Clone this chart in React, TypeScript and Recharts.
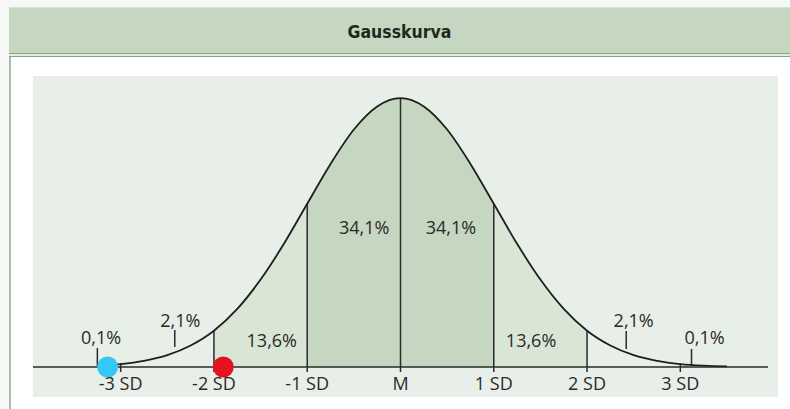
import React from 'react';
import { ComposedChart, Area, Line, XAxis, YAxis, ReferenceLine, Scatter } from 'recharts';

// Curve: position in SD units and relative height (peak = 1)
const sdPositions = [-3.25, -3, -2.75, -2.5, -2.25, -2, -1.75, -1.5, -1.25, -1, -0.75, -0.5, -0.25, 0,
  0.25, 0.5, 0.75, 1, 1.25, 1.5, 1.75, 2, 2.25, 2.5, 2.75, 3, 3.25, 3.5];
const curveHeights = [0.005, 0.011, 0.023, 0.044, 0.08, 0.135, 0.216, 0.325, 0.458, 0.607, 0.755, 0.883, 0.969, 1,
  0.969, 0.883, 0.755, 0.607, 0.458, 0.325, 0.216, 0.135, 0.08, 0.044, 0.023, 0.011, 0.005, 0.002];

const tickValues = [-3, -2, -1, 0, 1, 2, 3];
const tickLabels = ['-3 SD', '-2 SD', '-1 SD', 'M', '1 SD', '2 SD', '3 SD'];
const dividerPositions = [-2, -1, 0, 1, 2];
const outerTickPositions = [-3, 3];

const percentLabels = ['0,1%', '2,1%', '13,6%', '34,1%', '34,1%', '13,6%', '2,1%', '0,1%'];
const percentLabelX = [-3.21, -2.36, -1.38, -0.39, 0.54, 1.4, 2.5, 3.26];
const percentLabelY = [0.112, 0.175, 0.1, 0.52, 0.52, 0.1, 0.175, 0.112];

const pointerX = [-3.25, -2.42, 2.42, 3.12];
const pointerBottom = [0.004, 0.074, 0.067, 0.004];
const pointerTop = [0.071, 0.138, 0.134, 0.067];

const markerX = [-3.14, -1.9];
const markerY = [0, 0];
const markerColors = ['#35c8f4', '#e3121f'];

const curveData = sdPositions.map((x, i) => ({
  x,
  y: curveHeights[i],
  mid: Math.abs(x) <= 2 ? curveHeights[i] : null,
  inner: Math.abs(x) <= 1 ? curveHeights[i] : null,
}));
const heightAt = (x: number) => curveHeights[sdPositions.indexOf(x)];
const labelData = percentLabels.map((label, i) => ({ x: percentLabelX[i], y: percentLabelY[i], label }));
const markerData = markerX.map((x, i) => ({ x, y: markerY[i], color: markerColors[i] }));

const FONT = '"Open Sans", "Noto Sans", sans-serif';

export default function App() {
  return (
    <div style={{ position: 'absolute', left: 0, top: 0, width: 790, height: 409, background: '#f6f8f6', overflow: 'hidden' }}>
      {/* content frame */}
      <div style={{ position: 'absolute', left: 9, top: 7, width: 781, height: 402, background: '#ffffff', borderLeft: '2px solid #aebdab' }} />
      {/* header */}
      <div style={{ position: 'absolute', left: 9, top: 7, width: 781, height: 46, background: '#c5d7c0', borderTop: '1px solid #d6e2d3',
        display: 'flex', alignItems: 'center', justifyContent: 'center' }}>
        <span style={{ fontFamily: '"DejaVu Sans Condensed", "Liberation Sans Narrow", sans-serif', fontWeight: 'bold', fontSize: 17.5, color: '#1c2a1c', marginLeft: 0, marginTop: 2 }}>Gausskurva</span>
      </div>
      <div style={{ position: 'absolute', left: 9, top: 53, width: 781, height: 1, background: '#8aa386' }} />
      <div style={{ position: 'absolute', left: 9, top: 54, width: 781, height: 2, background: '#e3ece1' }} />
      <div style={{ position: 'absolute', left: 9, top: 56, width: 781, height: 1, background: '#8aa386' }} />
      {/* chart panel */}
      <div style={{ position: 'absolute', left: 33, top: 76, width: 745, height: 321, background: '#e8efe9' }}>
        <ComposedChart width={745} height={321} data={curveData} margin={{ top: 0, right: 10, bottom: 0, left: 0 }}>
          <XAxis
            type="number"
            dataKey="x"
            domain={[-3.94, 3.94]}
            ticks={tickValues}
            interval={0}
            tickFormatter={(v: number) => tickLabels[tickValues.indexOf(v)]}
            height={30}
            tickSize={5}
            tickMargin={5}
            stroke="#2a2a2a"
            axisLine={{ stroke: '#2a2a2a', strokeWidth: 1.5 }}
            tickLine={{ stroke: '#2a2a2a', strokeWidth: 1.5 }}
            tick={{ fill: '#2a2a2a', fontSize: 18, fontFamily: FONT }}
          />
          <YAxis type="number" domain={[0, 1.082]} hide />
          <Area type="monotone" dataKey="mid" stroke="none" fill="#d9e6d5" fillOpacity={1} isAnimationActive={false} connectNulls={false} />
          <Area type="monotone" dataKey="inner" stroke="none" fill="#c5d7c1" fillOpacity={1} isAnimationActive={false} connectNulls={false} />
          {dividerPositions.map((x) => (
            <ReferenceLine key={'d' + x} segment={[{ x, y: 0 }, { x, y: heightAt(x) }]} stroke="#2a2a2a" strokeWidth={1.5} />
          ))}
          {outerTickPositions.map((x) => (
            <ReferenceLine key={'o' + x} segment={[{ x, y: 0 }, { x, y: 0.014 }]} stroke="#2a2a2a" strokeWidth={1.5} />
          ))}
          {pointerX.map((x, i) => (
            <ReferenceLine key={'p' + i} segment={[{ x, y: pointerBottom[i] }, { x, y: pointerTop[i] }]} stroke="#2a2a2a" strokeWidth={1.5} />
          ))}
          <Line type="monotone" dataKey="y" stroke="#1e1e1e" strokeWidth={1.8} dot={false} isAnimationActive={false} />
          <Scatter
            data={labelData}
            dataKey="y"
            isAnimationActive={false}
            shape={(p: any) => (
              <text x={p.cx} y={p.cy} textAnchor="middle" dominantBaseline="central" fontSize={18} fontFamily={FONT} fill="#2a2a2a">
                {p.payload.label}
              </text>
            )}
          />
          <Scatter
            data={markerData}
            dataKey="y"
            isAnimationActive={false}
            shape={(p: any) => <circle cx={p.cx} cy={p.cy} r={10.5} fill={p.payload.color} />}
          />
        </ComposedChart>
      </div>
    </div>
  );
}
